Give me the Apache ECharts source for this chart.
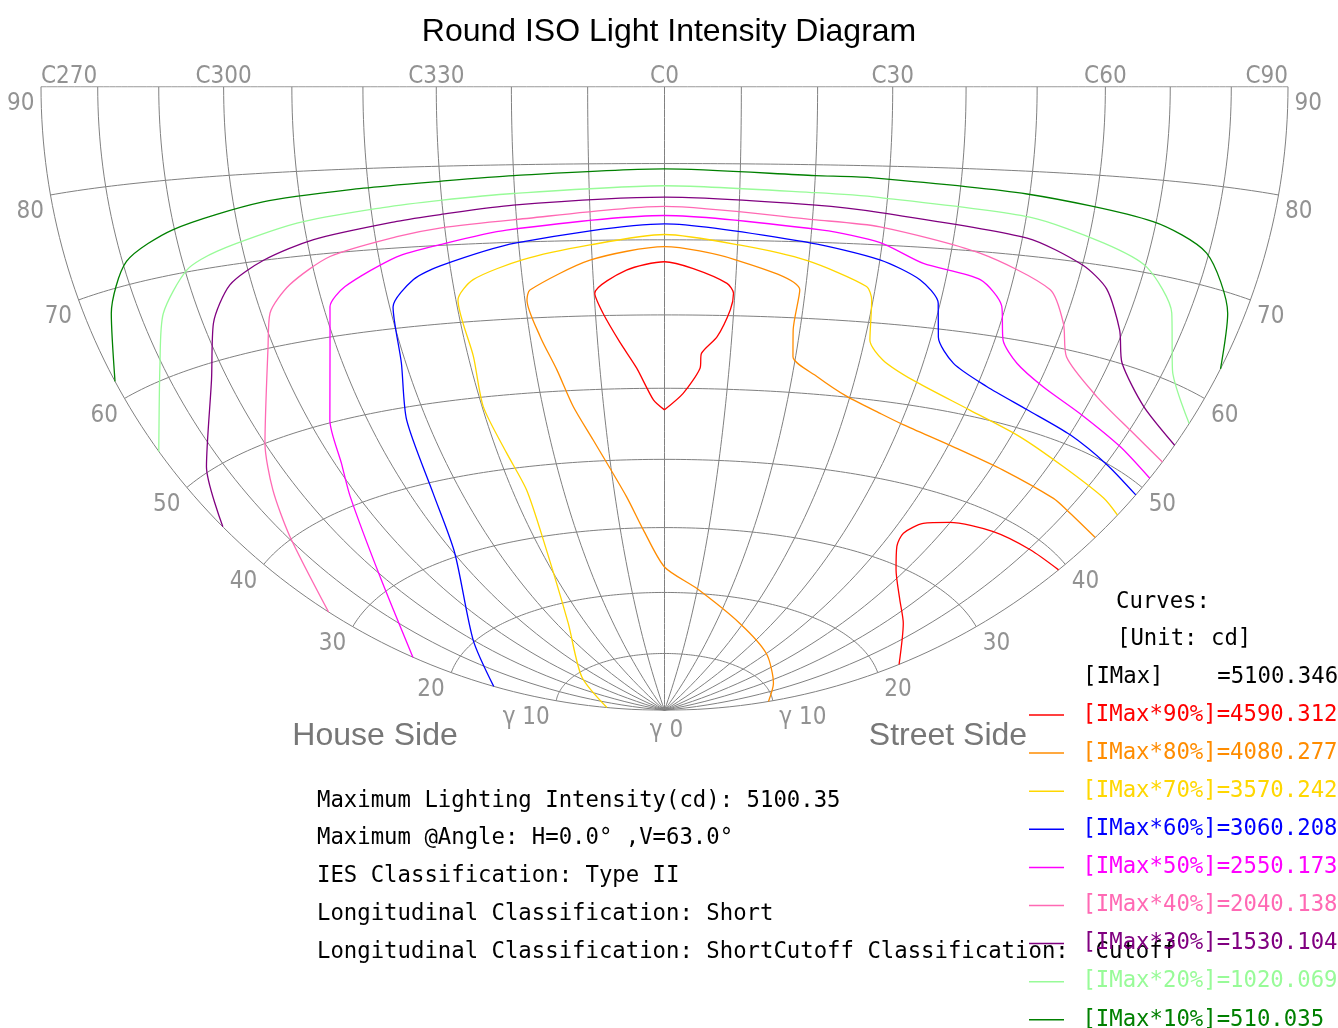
<!DOCTYPE html>
<html>
<head>
<meta charset="utf-8">
<title>Round ISO Light Intensity Diagram</title>
<script src="https://cdn.jsdelivr.net/npm/echarts@6/dist/echarts.min.js"></script>
<style>
  html, body { margin: 0; padding: 0; background: #fff; }
  #chart { width: 1338px; height: 1028px; }
</style>
</head>
<body>
<div id="chart"></div>
<script>
// C planes (C270 = -90 ... C90 = 90) and gamma rings
const cTicks = [-90, -80, -70, -60, -50, -40, -30, -20, -10, 0, 10, 20, 30, 40, 50, 60, 70, 80, 90];
const gammaRings = [10, 20, 30, 40, 50, 60, 70, 80, 90];
const cLabelTicks = [-90, -60, -30, 0, 30, 60, 90];
const cLabelText = ['C270', 'C300', 'C330', 'C0', 'C30', 'C60', 'C90'];
const gammaLabelTicks = [90, 80, 70, 60, 50, 40, 30, 20, 10];
const gammaLabelText = ['90', '80', '70', '60', '50', '40', '30', '20', 'γ 10'];

// iso curves, points are [C, gamma] in degrees
const curve90a = [[0, 47.0], [-1.8, 48.4], [-4.3, 52.8], [-6.7, 56.4], [-8.9, 60.3], [-9.9, 63.0], [-5.3, 66.0], [0, 67.1],
  [4.0, 66.2], [8.8, 64.3], [9.8, 63.0], [9.5, 60.8], [7.8, 57.1], [5.6, 54.8], [5.5, 52.8], [3.0, 49.3], [0, 47.0]];
const curve90b = [[90, 39.2], [80.4, 38.7], [69.9, 38.2], [59.9, 37.1], [54.9, 35.9], [52.5, 34.0], [53.4, 32.2],
  [57.9, 29.5], [66.3, 26.6], [74.4, 24.8], [90, 22.1]];
const curve80 = [[90, 9.6], [73.2, 10.8], [50, 13.2], [28.9, 16.2], [9.7, 20.8], [0, 24.0], [-4.8, 29.7], [-7.7, 34.7],
  [-12.5, 43.0], [-15, 47.8], [-16.7, 52.9], [-18.5, 57.5], [-19.7, 62.4], [-19.1, 63.7], [-10.3, 67.4], [0, 69.1],
  [9.6, 67.5], [19.2, 63.7], [19.0, 58.4], [19.6, 54.8], [23.9, 52.4], [29.5, 50.1], [35.9, 48.4], [40.5, 47.4],
  [51, 45.9], [62.4, 44.9], [75.5, 44.3], [79.8, 44.0], [90, 43.7]];
const curve70 = [[-90, 5.3], [-57.9, 9.4], [-36, 17.0], [-28.2, 29.5], [-27.2, 36.8], [-28.4, 42.2], [-29.8, 48.7],
  [-29.2, 55.4], [-29.7, 62.9], [-27, 65.4], [-19.6, 67.7], [-10.2, 69.4], [0, 70.7], [10.2, 69.4], [19.7, 67.6],
  [28.7, 64.6], [29.8, 62.9], [30.8, 57.7], [33.6, 55.3], [39.3, 53.2], [50.6, 50.7], [61.6, 49.1], [72.8, 47.7],
  [84.6, 47.0], [90, 46.6]];
const curve60 = [[-90, 15.9], [-70, 20.2], [-49.8, 30.5], [-45.5, 38.6], [-43.4, 48.4], [-40.7, 55.6], [-39.5, 62.7],
  [-35.6, 65.9], [-31.4, 67.4], [-20.3, 69.9], [0, 72.1], [19.9, 69.9], [30, 68.1], [36.3, 65.9], [39.7, 63.2],
  [41.1, 59.0], [44.8, 56.0], [51.6, 53.9], [60.2, 52.3], [70.1, 51.1], [80.3, 49.9], [90, 49.1]];
const curve50 = [[-90, 23.8], [-70.6, 31.6], [-61.5, 41.1], [-58.8, 45.1], [-56.4, 50.3], [-51, 58.9], [-49, 63.6],
  [-45.9, 65.8], [-37.4, 68.9], [-31, 70.1], [-21.5, 71.6], [0, 73.2], [21.5, 71.6], [29.7, 70.3], [36.3, 68.0],
  [45.1, 66.6], [49.4, 63.7], [51.3, 59.7], [54.9, 57.3], [60.9, 55.3], [69.6, 53.6], [80.3, 52.1], [90, 51.1]];
const curve40 = [[-90, 32.6], [-79.4, 40.3], [-74.7, 45.2], [-70, 50.0], [-60.9, 60.2], [-58.6, 63.9], [-54.2, 66.8],
  [-47.1, 69.6], [-36.9, 71.4], [-30.7, 72.2], [-20.5, 72.9], [0, 74.4], [20.5, 72.9], [29.4, 72.3], [44.2, 69.8],
  [56.1, 66.4], [59.9, 62.8], [62.5, 59.2], [70.8, 55.9], [80.1, 54.0], [90, 53.0]];
const curve30 = [[-90, 45.1], [-83.4, 50.5], [-72.8, 58.3], [-68.3, 64.0], [-63.5, 67.8], [-57.2, 70.0], [-49, 71.8],
  [-36.6, 73.3], [-30.4, 73.9], [-20.3, 74.8], [0, 75.6], [20.3, 74.8], [29.2, 74.1], [50.7, 72.1], [60.1, 69.7],
  [64.9, 67.5], [69.4, 63.4], [72.2, 60.1], [79.9, 56.7], [90, 54.9]];
const curve20 = [[-90, 54.2], [-80.3, 61.6], [-76, 66.3], [-69.7, 70.2], [-64.1, 71.7], [-51, 73.9], [-38.3, 75.1],
  [-30.2, 75.7], [-20.2, 76.3], [0, 77.1], [20.2, 76.4], [29, 76.0], [50.5, 74.6], [62.4, 72.5], [70.3, 70.6],
  [77, 66.5], [81.5, 61.1], [90, 57.3]];
const curve10 = [[-90, 61.8], [-85, 67.8], [-79.3, 72.3], [-70.2, 74.7], [-55.5, 76.7], [-40.7, 77.6], [-30, 78.1],
  [-20, 78.6], [0, 79.3], [20, 78.6], [27.4, 78.5], [49.6, 77.3], [69.5, 75.5], [79.6, 73.2], [86.8, 68.1], [90, 63.1]];

const levelPct = [90, 80, 70, 60, 50, 40, 30, 20, 10];
const levelCd = ['4590.312', '4080.277', '3570.242', '3060.208', '2550.173', '2040.138', '1530.104', '1020.069', '510.035'];
const levelColors = ['#ff0000', '#ff8c00', '#ffd700', '#0000ff', '#ff00ff', '#ff69b4', '#800080', '#98fb98', '#008000'];
const levelCurves = [[curve90a, curve90b], [curve80], [curve70], [curve60], [curve50], [curve40], [curve30], [curve20], [curve10]];

const infoLines = [
  'Maximum Lighting Intensity(cd): 5100.35',
  'Maximum @Angle: H=0.0° ,V=63.0°',
  'IES Classification: Type II',
  'Longitudinal Classification: Short',
  'Longitudinal Classification: ShortCutoff Classification:  Cutoff'
];

const MONO = '"DejaVu Sans Mono", "Liberation Mono", monospace';
const NARROW = '"Liberation Sans Narrow", "DejaVu Sans Condensed", "Liberation Sans", sans-serif';
const GRAY = '#777777';
const MONO_SIZE = 22.3;

// Lambert equal-area view centred on the C0 horizon
function proj(c, g) {
  const r = Math.PI / 180;
  const sx = Math.sin(g * r) * Math.sin(c * r);
  const sy = Math.sin(g * r) * Math.cos(c * r);
  const sz = Math.cos(g * r);
  const th = Math.acos(Math.max(-1, Math.min(1, sy)));
  const n = Math.hypot(sx, sz);
  if (n < 1e-9) return [0, 0];
  const rho = Math.sin(th / 2) / Math.SQRT1_2;
  return [rho * sx / n, -rho * sz / n];
}

// graticule
const gridLines = [];
cTicks.forEach(c => {
  const coords = [];
  for (let g = 0; g <= 90; g += 1) coords.push(proj(c, g));
  gridLines.push({ coords });
});
gammaRings.forEach(g => {
  const coords = [];
  for (let c = -90; c <= 90; c += 1) coords.push(proj(c, g));
  gridLines.push({ coords });
});

const names = levelPct.map((p, i) => '[IMax*' + p + '%]=' + levelCd[i]);

const series = [{
  type: 'lines',
  coordinateSystem: 'cartesian2d',
  polyline: true,
  silent: true,
  z: 1,
  lineStyle: { color: '#808080', width: 1, opacity: 1 },
  data: gridLines
}];

levelCurves.forEach((parts, i) => {
  parts.forEach(pts => {
    series.push({
      name: names[i],
      type: 'line',
      z: 3,
      symbol: 'none',
      smooth: 0.25,
      clip: false,
      color: levelColors[i],
      itemStyle: { color: levelColors[i] },
      lineStyle: { color: levelColors[i], width: 1.3 },
      data: pts.map(p => proj(p[0], p[1]))
    });
  });
});

const labelBase = { show: true, color: GRAY, fontSize: 24, fontFamily: NARROW };
const labelData = [];
gammaLabelTicks.forEach((g, i) => {
  labelData.push({ value: proj(-90, g), label: Object.assign({}, labelBase, { formatter: gammaLabelText[i], position: 'left', distance: 6, offset: [0, 17] }) });
  labelData.push({ value: proj(90, g), label: Object.assign({}, labelBase, { formatter: gammaLabelText[i], position: 'right', distance: 6, offset: [0, 17] }) });
});
labelData.push({ value: proj(0, 0), label: Object.assign({}, labelBase, { formatter: 'γ 0', position: 'inside', offset: [2, 21] }) });
cLabelTicks.forEach((c, i) => {
  const align = i === 0 ? 'left' : (i === cLabelTicks.length - 1 ? 'right' : 'center');
  labelData.push({ value: proj(c, 90), label: Object.assign({}, labelBase, { formatter: cLabelText[i], position: 'top', distance: 0, offset: [0, 3], align }) });
});
series.push({
  type: 'scatter',
  silent: true,
  symbolSize: 1,
  z: 4,
  itemStyle: { color: 'transparent' },
  data: labelData
});

function txt(text, x, y, opts) {
  return {
    type: 'text', x, y, silent: true,
    style: Object.assign({
      text, fill: '#000', font: MONO_SIZE + 'px ' + MONO,
      align: 'left', verticalAlign: 'middle', textAlign: 'left', textVerticalAlign: 'middle'
    }, opts || {})
  };
}

const graphics = [
  txt('House Side', 375, 736, { fill: GRAY, font: '32px "Liberation Sans", Arial, sans-serif', align: 'center', textAlign: 'center' }),
  txt('Street Side', 948, 736, { fill: GRAY, font: '32px "Liberation Sans", Arial, sans-serif', align: 'center', textAlign: 'center' }),
  txt('Curves:', 1116, 602),
  txt('[Unit: cd]', 1117, 639),
  txt('[IMax]    =5100.346', 1083, 677)
];
infoLines.forEach((t, i) => graphics.push(txt(t, 317, 801 + i * 37.7)));

const chart = echarts.init(document.getElementById('chart'));
chart.setOption({
  animation: false,
  backgroundColor: '#fff',
  title: {
    text: 'Round ISO Light Intensity Diagram',
    left: 'center',
    top: 11,
    textStyle: { fontSize: 32, fontWeight: 'normal', color: '#000', fontFamily: '"Liberation Sans", Arial, sans-serif' }
  },
  grid: { left: 41, top: 86.7, width: 1247, height: 623.5 },
  xAxis: { type: 'value', min: -1, max: 1, show: false },
  yAxis: { type: 'value', min: -1, max: 0, show: false },
  legend: {
    orient: 'vertical',
    left: 1029,
    top: 704,
    width: 320,
    height: 400,
    padding: 0,
    itemWidth: 35,
    itemHeight: 1.5,
    itemGap: 16.1,
    icon: 'rect',
    selectedMode: false,
    formatter: n => ' ' + n,
    textStyle: { fontFamily: MONO, fontSize: MONO_SIZE, lineHeight: 20 },
    data: names.map((n, i) => ({ name: n, itemStyle: { color: levelColors[i] }, textStyle: { color: levelColors[i] } }))
  },
  graphic: graphics,
  series
});
</script>
</body>
</html>
